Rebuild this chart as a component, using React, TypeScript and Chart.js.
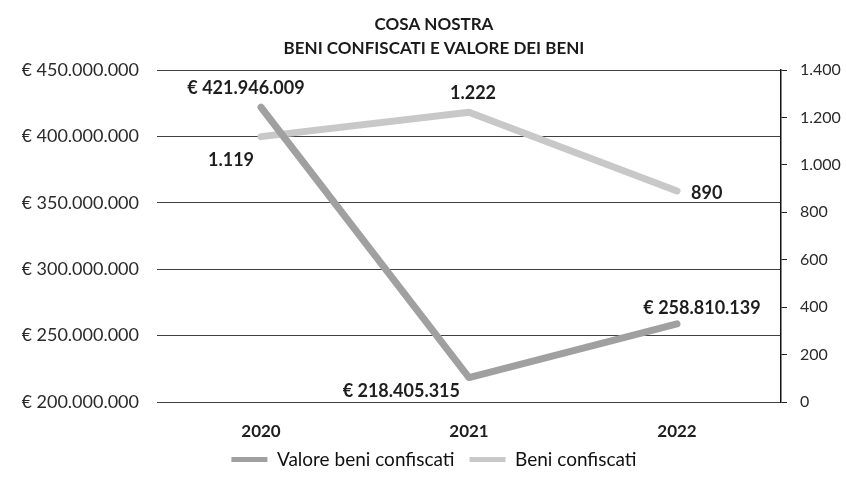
import React, { useEffect, useRef } from "react";
import { Chart, registerables } from "chart.js";

Chart.register(...registerables);

const categories = ["2020", "2021", "2022"];
const valoreBeni = [421946009, 218405315, 258810139];
const beniConfiscati = [1119, 1222, 890];
const titleLines = ["COSA NOSTRA", "BENI CONFISCATI E VALORE DEI BENI"];
const seriesNames = ["Valore beni confiscati", "Beni confiscati"];

const FONT = "Lato, 'Noto Sans', sans-serif";
const COLOR_VALORE = "#a0a0a0";
const COLOR_BENI = "#c8c8c8";

const fmt = (n: number) => String(Math.round(n)).replace(/\B(?=(\d{3})+(?!\d))/g, ".");

// label offsets relative to each point (styling only)
const labelPlacement = [
  [
    { dx: -15, dy: -19, align: "center" },
    { dx: -9, dy: 14, align: "right" },
    { dx: 25, dy: -16, align: "center" },
  ],
  [
    { dx: -30, dy: 24, align: "center" },
    { dx: 4, dy: -19, align: "center" },
    { dx: 14, dy: 2, align: "left" },
  ],
];

const dataLabelPlugin = {
  id: "dataLabels",
  afterDatasetsDraw(chart: any) {
    const ctx = chart.ctx;
    ctx.save();
    ctx.font = `bold 18px ${FONT}`;
    ctx.fillStyle = "#1e1e1e";
    ctx.textBaseline = "middle";
    chart.data.datasets.forEach((ds: any, di: number) => {
      const meta = chart.getDatasetMeta(di);
      meta.data.forEach((pt: any, i: number) => {
        const v = ds.data[i];
        const text = di === 0 ? `€ ${fmt(v)}` : fmt(v);
        const p = labelPlacement[di][i];
        ctx.textAlign = p.align;
        ctx.fillText(text, pt.x + p.dx, pt.y + p.dy);
      });
    });
    ctx.restore();
  },
};

export default function App() {
  const ref = useRef<HTMLCanvasElement | null>(null);
  useEffect(() => {
    document.body.style.margin = "0";
    if (!ref.current) return;
    const baseGen = Chart.defaults.plugins.legend.labels.generateLabels;
    const chart = new Chart(ref.current, {
      type: "line",
      data: {
        labels: categories,
        datasets: [
          {
            label: seriesNames[0],
            data: valoreBeni,
            yAxisID: "y",
            borderColor: COLOR_VALORE,
            backgroundColor: COLOR_VALORE,
            borderWidth: 7,
            borderCapStyle: "round",
            borderJoinStyle: "round",
            pointRadius: 0,
            tension: 0,
          },
          {
            label: seriesNames[1],
            data: beniConfiscati,
            yAxisID: "y1",
            borderColor: COLOR_BENI,
            backgroundColor: COLOR_BENI,
            borderWidth: 7,
            borderCapStyle: "round",
            borderJoinStyle: "round",
            pointRadius: 0,
            tension: 0,
          },
        ],
      },
      options: {
        responsive: false,
        animation: false,
        layout: { padding: { left: 22, right: 0, top: 0, bottom: 5 } },
        plugins: {
          title: {
            display: true,
            text: titleLines,
            color: "#1a1a1a",
            font: { family: FONT, size: 17, weight: "bold", lineHeight: "24px" },
            padding: { top: 13, bottom: 9 },
          },
          legend: {
            position: "bottom",
            labels: {
              color: "#111",
              font: { family: FONT, size: 19 },
              boxWidth: 36,
              boxHeight: 5,
              padding: 15,
              generateLabels: (c: any) =>
                baseGen(c).map((l: any) => ({
                  ...l,
                  fillStyle: l.strokeStyle,
                  lineWidth: 0,
                })),
            },
          },
          tooltip: { enabled: false },
        },
        scales: {
          x: {
            offset: true,
            grid: { display: false, drawTicks: false },
            border: { display: false },
            ticks: {
              color: "#1e1e1e",
              font: { family: FONT, size: 17, weight: "bold" },
              mirror: true,
              padding: -40,
              maxRotation: 0,
            },
            afterFit: (s: any) => {
              s.height = 33;
            },
          },
          y: {
            position: "left",
            min: 200000000,
            max: 450000000,
            ticks: {
              stepSize: 50000000,
              color: "#2a2a2a",
              font: { family: FONT, size: 18 },
              padding: 18,
              callback: (v: any) => `€ ${fmt(Number(v))}`,
            },
            grid: { color: "#404040", lineWidth: 1, drawTicks: false },
            border: { display: false },
            afterFit: (s: any) => {
              s.width = 135;
            },
          },
          y1: {
            position: "right",
            min: 0,
            max: 1400,
            ticks: {
              stepSize: 200,
              color: "#2a2a2a",
              font: { family: FONT, size: 16 },
              padding: 13,
              callback: (v: any) => fmt(Number(v)),
            },
            grid: { drawOnChartArea: false, drawTicks: true, tickLength: 6, color: "#222" },
            border: { display: true, color: "#111", width: 1.5 },
            afterFit: (s: any) => {
              s.width = 65;
            },
          },
        },
      },
      plugins: [dataLabelPlugin],
    } as any);
    return () => chart.destroy();
  }, []);
  return (
    <div style={{ width: 846, height: 484, background: "#fff" }}>
      <canvas ref={ref} width={846} height={484} />
    </div>
  );
}
